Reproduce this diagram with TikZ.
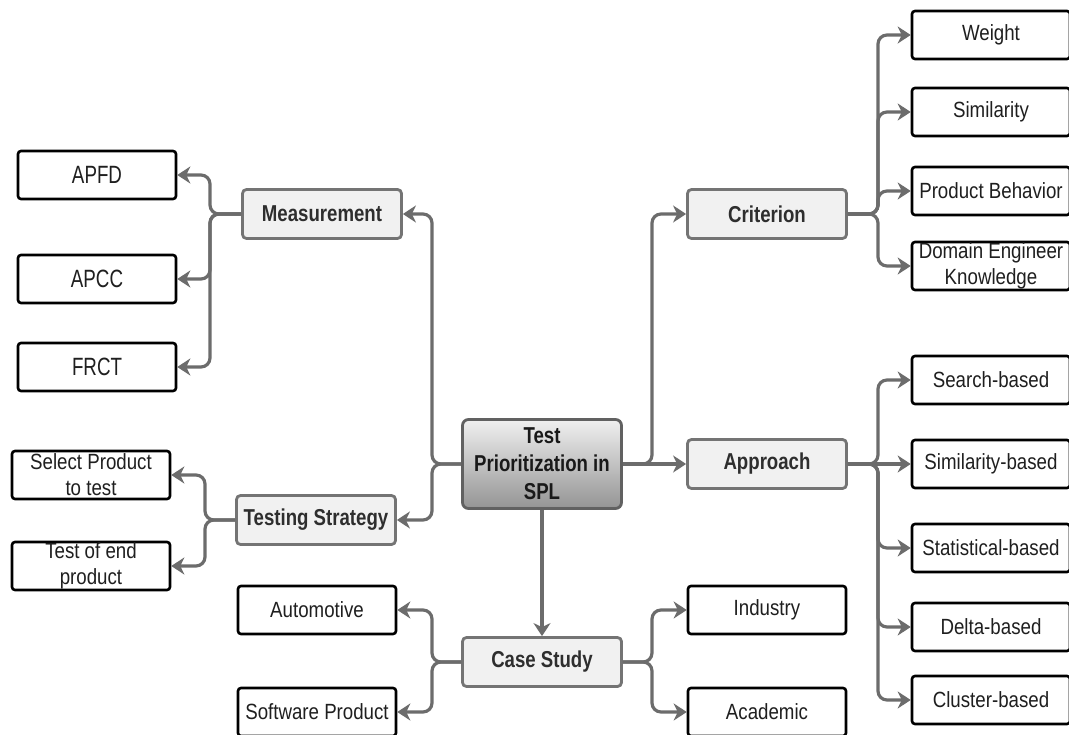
\documentclass[tikz,border=0pt]{standalone}
\usepackage{fontspec}
\setmainfont[FakeStretch=0.85]{Liberation Sans}
\newfontfamily\tallfont[FakeStretch=0.75]{Liberation Sans}
\newfontfamily\catfont[FakeStretch=0.81]{Liberation Sans}
\usetikzlibrary{arrows.meta}
\definecolor{conncol}{HTML}{6C6C6C}
\definecolor{catborder}{HTML}{747474}
\definecolor{catfill}{HTML}{F1F1F1}
\definecolor{txtdark}{HTML}{2E2E2E}
\begin{document}
\begin{tikzpicture}[x=1pt,y=-1pt,
  leaf/.style={draw=black, line width=2.6pt, fill=white, rounded corners=3pt,
    minimum width=158pt, minimum height=48pt, inner sep=0pt, align=center,
    font=\fontsize{22}{26}\selectfont, text=black!88},
  tallleaf/.style={leaf, font=\tallfont\fontsize{25}{28}\selectfont},
  cat/.style={draw=catborder, line width=2.8pt, fill=catfill, rounded corners=4pt,
    minimum width=159pt, minimum height=49pt, inner sep=0pt, align=center,
    font=\catfont\bfseries\fontsize{23}{26}\selectfont, text=txtdark},
  hub/.style={cat, draw=black!62, rounded corners=6pt, top color=black!6, bottom color=black!42,
    minimum height=89pt, font=\catfont\bfseries\fontsize{23}{28}\selectfont, text=black!90},
  conn/.style={draw=conncol, line width=3.2pt, rounded corners=9pt,
    -{Stealth[length=13pt,width=17pt,inset=4pt]}},
]
\clip (0,0) rectangle (1069,735);
\fill[white] (0,0) rectangle (1069,735);

% central and category nodes
\node[hub] (hub) at (542,464) {Test\\Prioritization in\\SPL};
\node[cat] (meas) at (322,214) {Measurement};
\node[cat] (crit) at (767,214) {Criterion};
\node[cat] (appr) at (767,464) {Approach};
\node[cat] (strat) at (316,520) {Testing Strategy};
\node[cat] (case) at (542,662) {Case Study};

% left leaves
\node[tallleaf] (apfd) at (97,175) {APFD};
\node[tallleaf] (apcc) at (97,279) {APCC};
\node[tallleaf] (frct) at (97,367) {FRCT};
\node[leaf] (select) at (91,475) {Select Product\\to test};
\node[leaf] (endp) at (91,566) {Test of end\\product};
\node[leaf] (auto) at (317,610) {Automotive};
\node[leaf] (soft) at (317,712) {Software Product};

% right leaves
\node[leaf] (weight) at (991,35) {Weight};
\node[leaf] (simil) at (991,112) {Similarity};
\node[leaf] (behav) at (991,191) {Product Behavior};
\node[leaf] (domain) at (991,266) {Domain Engineer\\Knowledge};
\node[leaf] (search) at (991,380) {Search-based};
\node[leaf] (simbased) at (991,464) {Similarity-based};
\node[leaf] (stat) at (991,548) {Statistical-based};
\node[leaf] (delta) at (991,627) {Delta-based};
\node[leaf] (cluster) at (991,700) {Cluster-based};
\node[leaf] (industry) at (767,610) {Industry};
\node[leaf] (academic) at (767,712) {Academic};

% junction coordinates
\coordinate (jHL) at (432,464);
\coordinate (jHR) at (652,464);
\coordinate (jM) at (210,214);
\coordinate (jC) at (878,214);
\coordinate (jA) at (878,464);
\coordinate (jS) at (205,520);
\coordinate (jCL) at (432,662);
\coordinate (jCR) at (652,662);

% hub connectors
\draw[conn] (hub.west) -- (jHL) |- (meas.east);
\draw[conn] (hub.west) -- (jHL) |- (strat.east);
\draw[conn] (hub.east) -- (jHR) |- (crit.west);
\draw[conn] (hub.east) -- (appr.west);
\draw[conn] (hub.south) -- (case.north);

% measurement
\draw[conn] (meas.west) -- (jM) |- (apfd.east);
\draw[conn] (meas.west) -- (jM) |- (apcc.east);
\draw[conn] (meas.west) -- (jM) |- (frct.east);

% criterion
\draw[conn] (crit.east) -- (jC) |- (weight.west);
\draw[conn] (crit.east) -- (jC) |- (simil.west);
\draw[conn] (crit.east) -- (jC) |- (behav.west);
\draw[conn] (crit.east) -- (jC) |- (domain.west);

% approach
\draw[conn] (appr.east) -- (jA) |- (search.west);
\draw[conn] (appr.east) -- (simbased.west);
\draw[conn] (appr.east) -- (jA) |- (stat.west);
\draw[conn] (appr.east) -- (jA) |- (delta.west);
\draw[conn] (appr.east) -- (jA) |- (cluster.west);

% testing strategy
\draw[conn] (strat.west) -- (jS) |- (select.east);
\draw[conn] (strat.west) -- (jS) |- (endp.east);

% case study
\draw[conn] (case.west) -- (jCL) |- (auto.east);
\draw[conn] (case.west) -- (jCL) |- (soft.east);
\draw[conn] (case.east) -- (jCR) |- (industry.west);
\draw[conn] (case.east) -- (jCR) |- (academic.west);
\end{tikzpicture}
\end{document}
